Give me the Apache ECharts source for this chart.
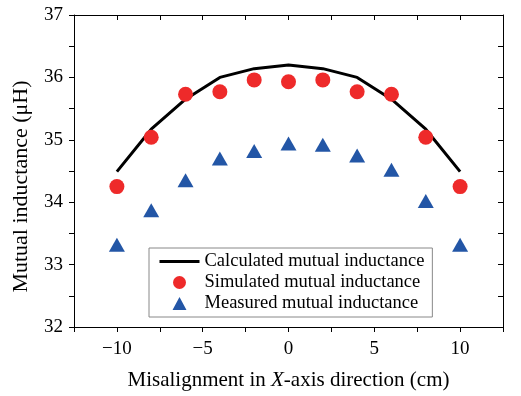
<!DOCTYPE html>
<html>
<head>
<meta charset="utf-8">
<script src="https://cdn.jsdelivr.net/npm/echarts@6/dist/echarts.min.js"></script>
<style>
  html, body { margin: 0; padding: 0; background: #fff; }
  #main { width: 521px; height: 396px; }
</style>
</head>
<body>
<div id="main"></div>
<script>
// misalignment (cm)
const xValues = [-10, -8, -6, -4, -2, 0, 2, 4, 6, 8, 10];
// mutual inductance (uH)
const calculated = [34.49, 35.17, 35.65, 36.0, 36.14, 36.2, 36.14, 36.0, 35.65, 35.17, 34.49];
const simulated = [34.25, 35.04, 35.73, 35.77, 35.96, 35.93, 35.96, 35.77, 35.73, 35.04, 34.25];
const measured = [33.32, 33.87, 34.35, 34.70, 34.82, 34.94, 34.92, 34.75, 34.52, 34.02, 33.32];

const seriesNames = ['Calculated mutual inductance', 'Simulated mutual inductance', 'Measured mutual inductance'];

function pairs(ys) {
  return xValues.map(function (x, i) { return [x, ys[i]]; });
}

const font = 'Liberation Serif';
const axisLine = { show: true, onZero: false, lineStyle: { color: '#000', width: 1 } };
// triangle centred in a 40x13 box so the legend does not stretch it
const legendTriangle = 'path://M0,13L0.01,13ZM13,13L20,0L27,13ZM40,13L39.99,13Z';

let option = {
  animation: false,
  textStyle: { fontFamily: font },
  grid: { left: 74, right: 18, top: 15, bottom: 67 },
  legend: {
    orient: 'vertical',
    left: 149,
    top: 248,
    width: 281,
    padding: [4, 8, 4, 9],
    itemGap: 2,
    itemWidth: 40,
    itemHeight: 13,
    borderColor: '#888',
    borderWidth: 1,
    textStyle: { fontFamily: font, fontSize: 18.5, color: '#000' },
    data: [
      { name: seriesNames[0], itemStyle: { opacity: 0 }, lineStyle: { width: 3, color: '#000' } },
      { name: seriesNames[1], icon: 'circle' },
      { name: seriesNames[2], icon: legendTriangle }
    ]
  },
  xAxis: [
    {
      type: 'value',
      min: -12.5,
      max: 12.5,
      interval: 2.5,
      position: 'bottom',
      name: '{n|Misalignment in }{i|X}{n|-axis direction (cm)}',
      nameLocation: 'middle',
      nameGap: 43,
      nameTextStyle: {
        rich: {
          n: { fontFamily: font, fontSize: 21, color: '#000' },
          i: { fontFamily: font, fontSize: 21, color: '#000', fontStyle: 'italic' }
        }
      },
      axisLine: axisLine,
      axisTick: { show: true, inside: false, length: 5, lineStyle: { color: '#000' } },
      axisLabel: {
        fontFamily: font, fontSize: 19, color: '#000', margin: 13,
        formatter: function (v) {
          if (v % 5 !== 0) return '';
          return v < 0 ? '\u2212' + Math.abs(v) : String(v);
        }
      },
      splitLine: { show: false }
    },
    {
      type: 'value',
      min: -12.5,
      max: 12.5,
      interval: 2.5,
      position: 'top',
      axisLine: axisLine,
      axisTick: { show: true, inside: true, length: 5, lineStyle: { color: '#000' } },
      axisLabel: { show: false },
      splitLine: { show: false }
    }
  ],
  yAxis: [
    {
      type: 'value',
      min: 32,
      max: 37,
      interval: 0.5,
      position: 'left',
      name: 'Mutual inductance (\u03bcH)',
      nameLocation: 'middle',
      nameGap: 42,
      nameTextStyle: { fontFamily: font, fontSize: 22, color: '#000', padding: [0, 31, 0, 0] },
      axisLine: axisLine,
      axisTick: { show: true, inside: false, length: 5, lineStyle: { color: '#000' } },
      axisLabel: {
        fontFamily: font, fontSize: 19, color: '#000', margin: 11,
        formatter: function (v) { return v % 1 === 0 ? String(v) : ''; }
      },
      splitLine: { show: false }
    },
    {
      type: 'value',
      min: 32,
      max: 37,
      interval: 0.5,
      position: 'right',
      axisLine: axisLine,
      axisTick: { show: true, inside: true, length: 5, lineStyle: { color: '#000' } },
      axisLabel: { show: false },
      splitLine: { show: false }
    }
  ],
  series: [
    {
      name: seriesNames[0],
      type: 'line',
      data: pairs(calculated),
      symbol: 'none',
      lineStyle: { color: '#000', width: 3 },
      itemStyle: { color: '#000' },
      z: 3
    },
    {
      name: seriesNames[1],
      type: 'scatter',
      data: pairs(simulated),
      symbol: 'circle',
      symbolSize: 15,
      itemStyle: { color: '#EE2A2A', opacity: 1 },
      z: 4
    },
    {
      name: seriesNames[2],
      type: 'scatter',
      data: pairs(measured),
      symbol: 'triangle',
      symbolSize: [16, 14],
      itemStyle: { color: '#2356A6', opacity: 1 },
      z: 4
    }
  ]
};

let myChart = echarts.init(document.getElementById('main'));
myChart.setOption(option);
window.addEventListener('resize', function () {
  myChart.resize();
}, false);
</script>
</body>
</html>
